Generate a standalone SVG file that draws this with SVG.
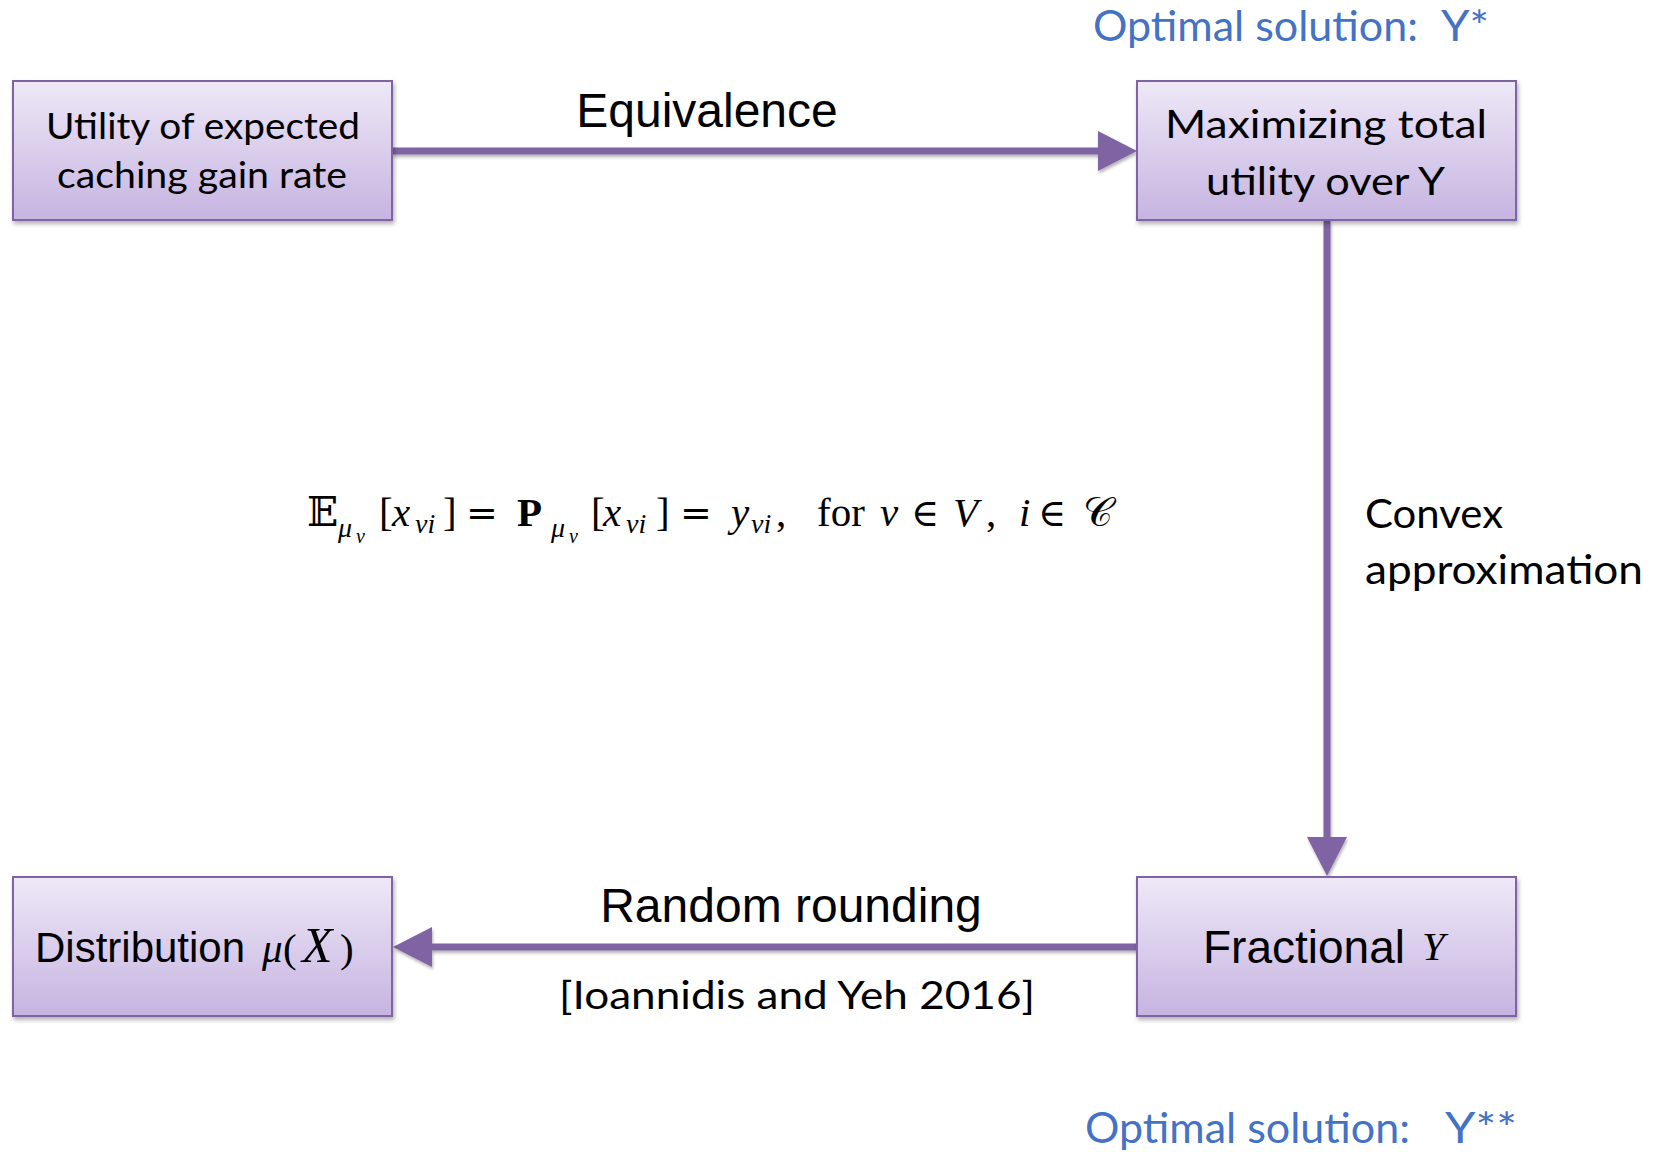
<svg xmlns="http://www.w3.org/2000/svg" width="1664" height="1152" viewBox="0 0 1664 1152">
<style>
.box{fill:url(#boxg);stroke:#8064A2;stroke-width:2;filter:url(#sh)}
.cal{font-family:Lato,"Noto Sans",sans-serif;fill:#000}
.blue{font-family:Lato,"Noto Sans",sans-serif;fill:#4472C4;font-size:43px}
.ar{font-family:"Liberation Sans",Arial,sans-serif;fill:#000}
.m{font-family:"Liberation Serif","DejaVu Serif",serif;fill:#000;font-size:41px}
.op{font-family:"DejaVu Serif",serif;font-size:38px}
.it{font-style:italic}
.sub{font-size:28px}
.ss{font-size:20px}
.conn{stroke:#8064A2;stroke-width:7;fill:none}
</style>
<defs>
<linearGradient id="boxg" x1="0" y1="0" x2="0" y2="1">
<stop offset="0" stop-color="#EEE8F7"/>
<stop offset="1" stop-color="#C6B4E1"/>
</linearGradient>
<filter id="sh" x="-10%" y="-20%" width="130%" height="150%">
<feDropShadow dx="1.5" dy="3" stdDeviation="2" flood-color="#000" flood-opacity="0.3"/>
</filter>
<filter id="lsh" filterUnits="userSpaceOnUse" x="0" y="0" width="1664" height="1152">
<feDropShadow dx="1" dy="2.5" stdDeviation="1.5" flood-color="#000" flood-opacity="0.3"/>
</filter>
<marker id="ah" markerUnits="userSpaceOnUse" markerWidth="40" markerHeight="40" refX="0" refY="20" orient="auto">
<path d="M0,0 L39,20 L0,40 Z" fill="#8064A2"/>
</marker>
</defs>
<rect width="1664" height="1152" fill="#fff"/>

<g id="connectors">
<g filter="url(#lsh)">
<line class="conn" x1="392" y1="151" x2="1098" y2="151" marker-end="url(#ah)"/>
<line class="conn" x1="1327" y1="221" x2="1327" y2="837" marker-end="url(#ah)"/>
<line class="conn" x1="1137" y1="947" x2="432" y2="947" marker-end="url(#ah)"/>
</g>
<text class="ar" x="707" y="127" font-size="48" text-anchor="middle">Equivalence</text>
<text class="cal" x="1365" y="528" font-size="40" textLength="138" lengthAdjust="spacingAndGlyphs">Convex</text>
<text class="cal" x="1365" y="584" font-size="40" textLength="278" lengthAdjust="spacingAndGlyphs">approximation</text>
<text class="ar" x="791" y="922" font-size="48" text-anchor="middle">Random rounding</text>
<text class="cal" x="559" y="1009" font-size="39" textLength="476" lengthAdjust="spacingAndGlyphs">[Ioannidis and Yeh 2016]</text>
</g>

<g id="node-utility">
<rect class="box" x="13" y="81" width="379" height="139"/>
<text class="cal" x="46" y="139" font-size="37" textLength="314" lengthAdjust="spacingAndGlyphs">Utility of expected</text>
<text class="cal" x="57" y="188" font-size="37" textLength="290" lengthAdjust="spacingAndGlyphs">caching gain rate</text>
</g>

<g id="node-maximizing">
<rect class="box" x="1137" y="81" width="379" height="139"/>
<text class="cal" x="1165" y="138" font-size="39" textLength="322" lengthAdjust="spacingAndGlyphs">Maximizing total</text>
<text class="cal" x="1206" y="195" font-size="39" textLength="239" lengthAdjust="spacingAndGlyphs">utility over Y</text>
</g>

<g id="node-fractional">
<rect class="box" x="1137" y="877" width="379" height="139"/>
<text class="ar" x="1203" y="963" font-size="46">Fractional</text>
<text class="m it" x="1422" y="960" font-size="50">Y</text>
</g>

<g id="node-distribution">
<rect class="box" x="13" y="877" width="379" height="139"/>
<text class="ar" x="35" y="962" font-size="42">Distribution</text>
<text class="m" font-size="46" y="962"><tspan class="it" x="262">μ</tspan><tspan x="283">(</tspan><tspan class="it" x="302" font-size="50">X</tspan><tspan x="340">)</tspan></text>
</g>

<g id="formula">
<text class="m" y="526">
<tspan x="307" font-family="'DejaVu Serif','DejaVu Sans',serif">𝔼</tspan>
<tspan class="it sub" x="338" y="537">μ</tspan><tspan class="it ss" x="356" y="543">v</tspan>
<tspan x="379" y="526">[</tspan><tspan class="it" x="392">x</tspan><tspan class="it sub" x="415" y="533">vi</tspan><tspan x="443" y="526">]</tspan>
<tspan class="op" x="466">=</tspan>
<tspan x="517" font-weight="bold">P</tspan>
<tspan class="it sub" x="551" y="537">μ</tspan><tspan class="it ss" x="569" y="543">v</tspan>
<tspan x="591" y="526">[</tspan><tspan class="it" x="603">x</tspan><tspan class="it sub" x="626" y="533">vi</tspan><tspan x="656" y="526">]</tspan>
<tspan class="op" x="680">=</tspan>
<tspan class="it" x="731">y</tspan><tspan class="it sub" x="751" y="533">vi</tspan><tspan x="776" y="526">,</tspan>
<tspan x="817">for</tspan>
<tspan class="it" x="880">v</tspan>
<tspan class="op" x="911">∈</tspan>
<tspan class="it" x="953">V</tspan><tspan x="986">,</tspan>
<tspan class="it" x="1019">i</tspan>
<tspan class="op" x="1038">∈</tspan>
<tspan x="1083" font-family="'DejaVu Serif','DejaVu Sans','Noto Sans',serif">𝒞</tspan>
</text>
</g>

<g id="labels">
<text class="blue" y="41"><tspan x="1093">Optimal solution:</tspan></text>
<text class="blue" x="1441" y="41" font-size="45" textLength="48" lengthAdjust="spacingAndGlyphs">Y*</text>
<text class="blue" y="1143"><tspan x="1085">Optimal solution:</tspan></text>
<text class="blue" x="1445" y="1143" textLength="72" lengthAdjust="spacingAndGlyphs" font-size="46">Y**</text>
</g>
</svg>
